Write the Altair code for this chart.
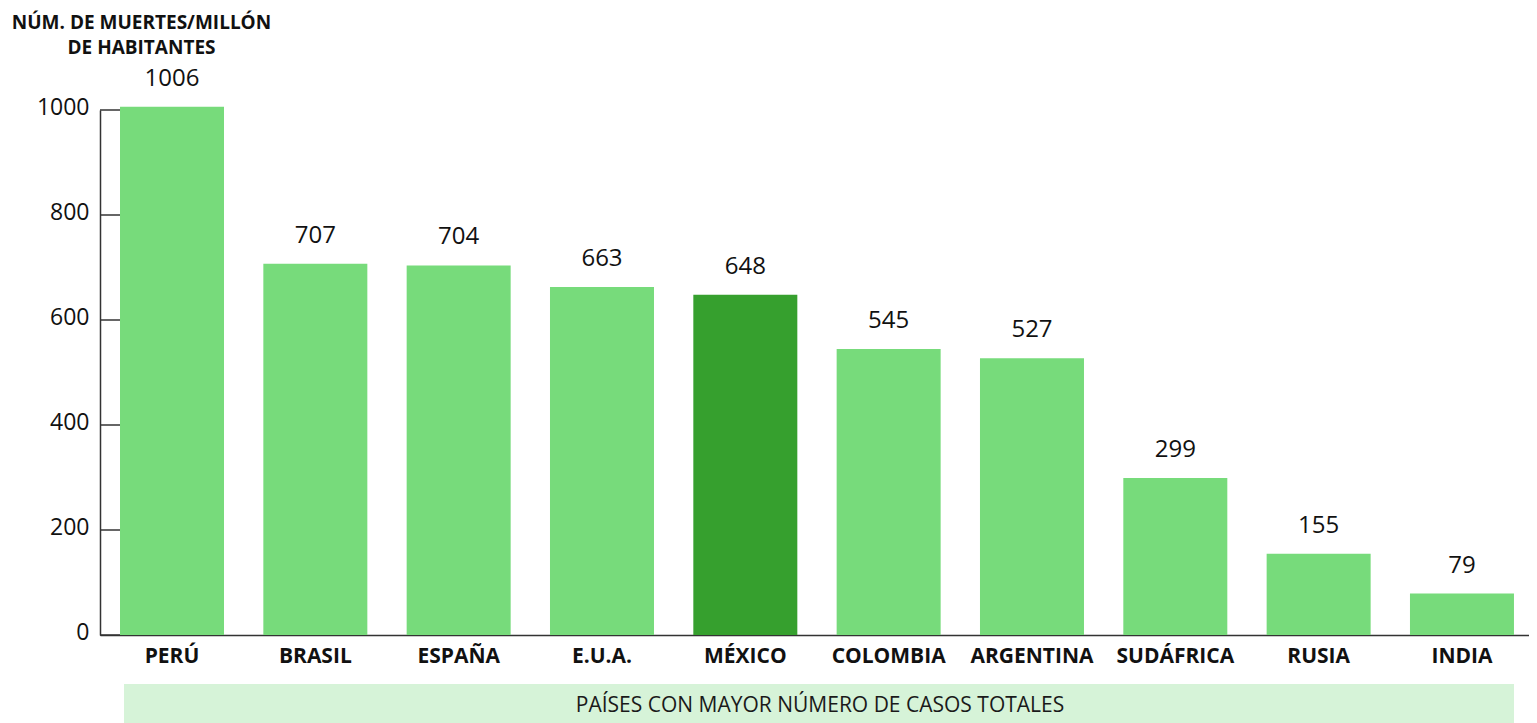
import altair as alt
import pandas as pd

countries = ["PERÚ", "BRASIL", "ESPAÑA", "E.U.A.", "MÉXICO", "COLOMBIA",
             "ARGENTINA", "SUDÁFRICA", "RUSIA", "INDIA"]
deaths_per_million = [1006, 707, 704, 663, 648, 545, 527, 299, 155, 79]
highlight = ["no", "no", "no", "no", "sí", "no", "no", "no", "no", "no"]
y_ticks = [0, 200, 400, 600, 800, 1000]
y_title = ["NÚM. DE MUERTES/MILLÓN", "DE HABITANTES"]
band_label = "PAÍSES CON MAYOR NÚMERO DE CASOS TOTALES"

df = pd.DataFrame({"pais": countries, "valor": deaths_per_million, "resaltado": highlight})
ticks_df = pd.DataFrame({"valor": y_ticks})
band_df = pd.DataFrame({"t": [band_label]})

FONT = "Open Sans"
yscale = alt.Scale(domain=[0, 1000], nice=False)
xscale = alt.Scale(paddingInner=0.2744, paddingOuter=0.1222, align=0.571, round=False)

yaxis = alt.Axis(values=y_ticks, format="d", grid=False, ticks=False, tickSize=0,
                 labelFont=FONT, labelFontSize=23, labelColor="#111111",
                 labelPadding=11, labelOffset=-3,
                 domainColor="#333333", domainWidth=1.5,
                 title=y_title, titleAngle=0, titleX=41, titleY=-82,
                 titleAlign="center", titleBaseline="alphabetic",
                 titleFont=FONT, titleFontSize=19, titleFontWeight="bold",
                 titleLineHeight=25, titleColor="#111111")

base = alt.Chart(df)

bars = base.mark_bar().encode(
    x=alt.X("pais:N", sort=countries, scale=xscale,
            axis=alt.Axis(title=None, labelAngle=0, ticks=False, tickSize=0,
                          labelFont=FONT, labelFontSize=21, labelFontWeight="bold",
                          labelColor="#111111", labelPadding=10,
                          domainColor="#333333", domainWidth=1.5)),
    y=alt.Y("valor:Q", scale=yscale, axis=yaxis),
    color=alt.Color("resaltado:N", legend=None,
                    scale=alt.Scale(domain=["no", "sí"], range=["#77DB7B", "#36A02E"])),
)

labels = base.mark_text(font=FONT, fontSize=24, color="#111111",
                        baseline="middle", dy=-28).encode(
    x=alt.X("pais:N", sort=countries, scale=xscale),
    y=alt.Y("valor:Q", scale=yscale, axis=yaxis),
    text=alt.Text("valor:Q", format="d"),
)

tick_marks = alt.Chart(ticks_df).mark_rule(color="#333333", strokeWidth=1.5).encode(
    x=alt.value(0), x2=alt.value(20),
    y=alt.Y("valor:Q", scale=yscale, axis=yaxis),
)

band = alt.Chart(band_df).mark_rect(color="#D6F3D8").encode(
    x=alt.value(24), x2=alt.value(1414),
    y=alt.value(574), y2=alt.value(625),
)

band_text = alt.Chart(band_df).mark_text(font=FONT, fontSize=21, color="#1a1a1a",
                                         baseline="middle", align="center").encode(
    x=alt.value(720), y=alt.value(596), text="t:N",
)

chart = alt.layer(band, band_text, bars, labels, tick_marks).properties(
    width=1429, height=525,
    padding={"left": 92, "top": 102, "right": 0, "bottom": 88},
    autosize=alt.AutoSizeParams(type="none"),
).configure_view(strokeWidth=0)

chart.save("out.html", embed_options={"renderer": "svg", "actions": False})
